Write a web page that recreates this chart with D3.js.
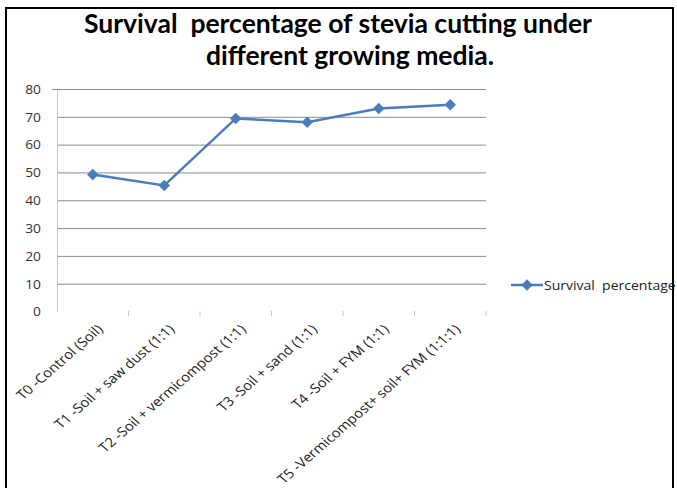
<!DOCTYPE html>
<html>
<head>
<meta charset="utf-8">
<script src="https://cdn.jsdelivr.net/npm/d3@7"></script>
<style>
  body { margin: 0; background: #fff; }
  svg { display: block; }
  text { white-space: pre; }
</style>
</head>
<body>
<div id="chart"></div>
<script>
// data
const categories = [
  "T0 -Control (Soil)",
  "T1 -Soil + saw dust (1:1)",
  "T2 -Soil + vermicompost (1:1)",
  "T3 -Soil + sand (1:1)",
  "T4 -Soil + FYM (1:1)",
  "T5 -Vermicompost+ soil+ FYM (1:1:1)"
];
const survival = [49.4, 45.5, 69.6, 68.2, 73.2, 74.5];
const yTicks = [0, 10, 20, 30, 40, 50, 60, 70, 80];
const seriesName = "Survival  percentage";
const titleLines = ["Survival  percentage of stevia cutting under", "different growing media."];

const width = 677, height = 488;
const blue = "#4a7ebb";
const smallFont = "'Open Sans', Lato, sans-serif";
const stretch = 1.15; // originalbilden är lite utdragen på bredden

const svg = d3.select("#chart").append("svg")
  .attr("width", width)
  .attr("height", height);

// ram runt bilden (vänster + topp)
svg.append("path")
  .attr("d", `M6,${height} V8 H${width - 4} V${height}`)
  .attr("fill", "none")
  .attr("stroke", "#000")
  .attr("stroke-width", 2);

// titel, två rader
const titleX = [338, 350];
svg.append("g").selectAll("text")
  .data(titleLines)
  .enter().append("text")
    .attr("x", (d, i) => titleX[i])
    .attr("y", (d, i) => 33 + i * 32)
    .attr("text-anchor", "middle")
    .attr("font-family", "Lato, 'Open Sans', sans-serif")
    .attr("font-weight", "bold")
    .attr("font-size", 26.5)
    .attr("fill", "#000")
    .text(d => d);

const x = d3.scaleBand().domain(categories).range([57, 486]);
const y = d3.scaleLinear().domain([0, 80]).range([312, 89.5]);

// horisontella stödlinjer
svg.append("g").selectAll("line")
  .data(yTicks.filter(d => d > 0))
  .enter().append("line")
    .attr("x1", d => d === 80 ? 52 : 57).attr("x2", 486)
    .attr("y1", d => y(d)).attr("y2", d => y(d))
    .attr("stroke", "#8c8c8c")
    .attr("stroke-width", 1);

// y-axel
const yAxis = svg.append("g")
  .attr("transform", "translate(57,0)")
  .call(d3.axisLeft(y).tickValues(yTicks).tickSize(0).tickPadding(16));
yAxis.select(".domain").attr("stroke", "#c8c8c8");
yAxis.selectAll("text")
  .attr("x", 0)
  .attr("transform", `translate(-16,0) scale(${stretch},1)`)
  .attr("font-family", smallFont)
  .attr("font-size", 12)
  .attr("fill", "#333");

// små streck mellan kategorierna
svg.append("g").selectAll("line")
  .data(categories)
  .enter().append("line")
    .attr("x1", d => x(d) + x.bandwidth())
    .attr("x2", d => x(d) + x.bandwidth())
    .attr("y1", 311).attr("y2", 316)
    .attr("stroke", "#c8c8c8");

// roterade kategorietiketter
svg.append("g").selectAll("text")
  .data(categories)
  .enter().append("text")
    .attr("transform", d => `translate(${x(d) + x.bandwidth() / 2 + 11},${330}) scale(${stretch},1) rotate(-45)`)
    .attr("text-anchor", "end")
    .attr("font-family", smallFont)
    .attr("font-size", 13)
    .attr("fill", "#222")
    .text(d => d);

// linjen
const line = d3.line()
  .x((d, i) => x(categories[i]) + x.bandwidth() / 2)
  .y(d => y(d));

svg.append("path")
  .datum(survival)
  .attr("d", line)
  .attr("fill", "none")
  .attr("stroke", blue)
  .attr("stroke-width", 2.5);

const diamond = d3.symbol().type(d3.symbolDiamond2).size(85);

svg.append("g").selectAll("path")
  .data(survival)
  .enter().append("path")
    .attr("transform", (d, i) => `translate(${x(categories[i]) + x.bandwidth() / 2},${y(d)})`)
    .attr("d", diamond)
    .attr("fill", blue);

// förklaring
const legend = svg.append("g").attr("transform", "translate(511,285)");
legend.append("line")
  .attr("x1", 0).attr("x2", 32)
  .attr("stroke", blue).attr("stroke-width", 2.5);
legend.append("path")
  .attr("transform", "translate(16,0)")
  .attr("d", diamond)
  .attr("fill", blue);
legend.append("text")
  .attr("transform", `translate(33,4.5) scale(${stretch},1)`)
  .attr("font-family", smallFont)
  .attr("font-size", 12.2)
  .attr("fill", "#222")
  .text(seriesName);
</script>
</body>
</html>
